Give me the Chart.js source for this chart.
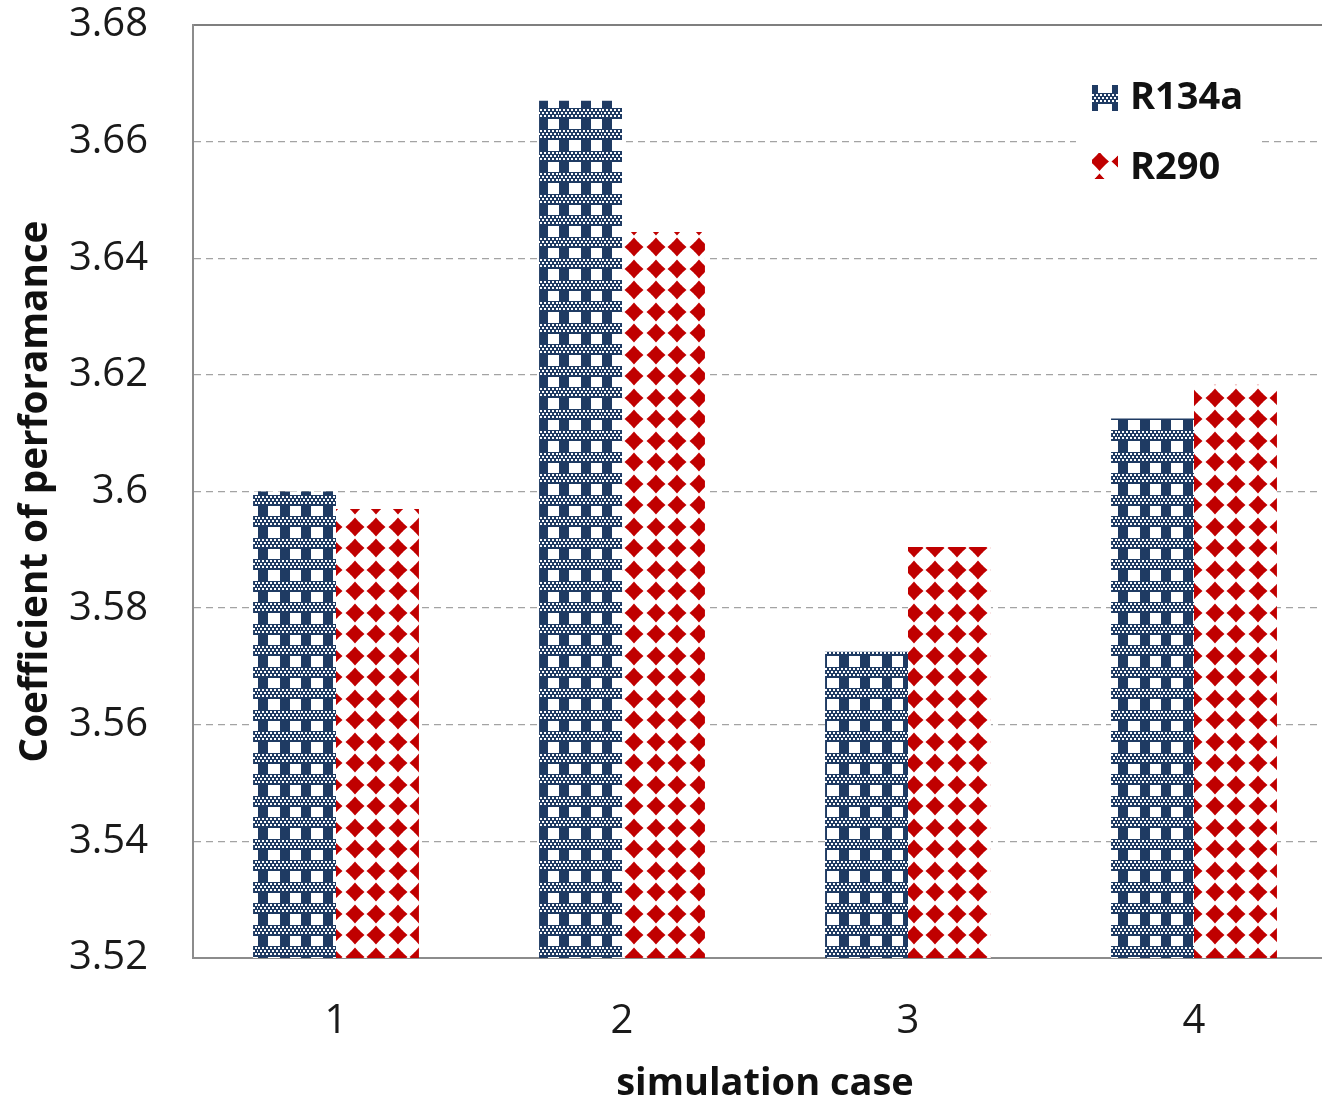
<!DOCTYPE html>
<html>
<head>
<meta charset="utf-8">
<script src="https://cdn.jsdelivr.net/npm/chart.js@4/dist/chart.umd.min.js"></script>
<style>
  html, body { margin: 0; padding: 0; background: #fff; overflow: hidden; }
  #wrap { width: 1340px; height: 1100px; }
  canvas { display: block; }
</style>
</head>
<body>
<div id="wrap"><canvas id="copChart" width="1340" height="1100"></canvas></div>
<script>
// Casi di simulazione e COP per i due refrigeranti
const casi = ['1', '2', '3', '4'];
const copR134a = [3.600, 3.667, 3.5725, 3.6125];
const copR290 = [3.597, 3.6445, 3.5905, 3.6183];

// Asse y
const yMin = 3.52;
const yMax = 3.68;
const yStep = 0.02;

const NAVY = '#1f3b63';
const ROSSO = '#c00000';

// Fascia orizzontale a trama fine (blu con puntini bianchi)
function fascia(g, x0, y0, w, h) {
    g.fillStyle = NAVY;
    g.fillRect(x0, y0, w, h);
    g.fillStyle = '#fff';
    let riga = 0;
    for (let y = 1; y < h - 1; y += 3) {
        const off = riga % 2 ? 2 : 0;
        for (let x = off; x < w; x += 4) g.fillRect(x0 + x, y0 + y, 2, 2);
        riga++;
    }
}

// Rombo arrotondato rosso
function rombo(g, cx, cy) {
    g.beginPath();
    for (let i = 0; i < 8; i++) {
        const a = i * Math.PI / 4 - Math.PI / 2;
        const r = i % 2 ? 6.2 : 9.5;
        g.lineTo(cx + r * Math.cos(a), cy + r * Math.sin(a));
    }
    g.closePath();
    g.fill();
    g.beginPath();
    g.arc(cx, cy, 6.3, 0, 2 * Math.PI);
    g.fill();
}

function nuovaTela(w, h) {
    const c = document.createElement('canvas');
    c.width = w;
    c.height = h;
    return c;
}

// Trama R134a: strisce verticali blu + fasce a quadretti
function trama134a() {
    const c = nuovaTela(43, 43);
    const g = c.getContext('2d');
    g.fillStyle = '#fff';
    g.fillRect(0, 0, 43, 43);
    g.fillStyle = NAVY;
    g.fillRect(0, 0, 10, 43);
    g.fillRect(22, 0, 10, 43);
    fascia(g, 0, 0, 43, 11);
    fascia(g, 0, 22, 43, 11);
    return g.createPattern(c, 'repeat');
}

// Trama R290: rombi rossi su bianco
function trama290() {
    const c = nuovaTela(43, 43);
    const g = c.getContext('2d');
    g.fillStyle = '#fff';
    g.fillRect(0, 0, 43, 43);
    g.fillStyle = ROSSO;
    [[11, 11], [32, 11], [11, 32], [32, 32]].forEach(([x, y]) => rombo(g, x, y));
    return g.createPattern(c, 'repeat');
}

// Icone della legenda
function icona134a() {
    const c = nuovaTela(26, 26);
    const g = c.getContext('2d');
    g.fillStyle = NAVY;
    g.fillRect(0, 0, 6, 26);
    g.fillRect(20, 0, 6, 26);
    fascia(g, 0, 8, 26, 11);
    return c;
}

function icona290() {
    const c = nuovaTela(26, 26);
    const g = c.getContext('2d');
    g.fillStyle = ROSSO;
    rombo(g, 7.5, 8.5);
    rombo(g, 29, 8.5);
    rombo(g, 7.5, 30);
    return c;
}

const icone = [icona134a(), icona290()];

// Legenda dentro l'area del grafico, in alto a destra
const legendaInterna = {
    id: 'legendaInterna',
    afterDraw(chart) {
        const ctx = chart.ctx;
        const x0 = chart.chartArea.right - 245;
        ctx.save();
        ctx.fillStyle = '#fff';
        ctx.fillRect(x0 - 16, 62, 182, 136);
        ctx.font = 'bold 38px "Open Sans"';
        ctx.textBaseline = 'middle';
        ctx.fillStyle = '#111';
        chart.data.datasets.forEach((ds, i) => {
            const y = 98 + i * 70;
            ctx.drawImage(icone[i], x0, y - 13 - i * 2);
            ctx.fillText(ds.label, x0 + 38, y);
        });
        ctx.restore();
    }
};

const isTop = ctx => ctx.tick && ctx.tick.value > yMax - yStep / 2;

const config = {
    type: 'bar',
    data: {
        labels: casi,
        datasets: [
            { label: 'R134a', data: copR134a, backgroundColor: trama134a(), borderWidth: 0 },
            { label: 'R290', data: copR290, backgroundColor: trama290(), borderWidth: 0 }
        ]
    },
    options: {
        responsive: false,
        devicePixelRatio: 1,
        animation: false,
        layout: { padding: { left: 0, top: 25, right: 3, bottom: 0 } },
        datasets: { bar: { categoryPercentage: 0.58, barPercentage: 1 } },
        plugins: {
            legend: { display: false },
            tooltip: { enabled: false }
        },
        scales: {
            x: {
                grid: { display: false, drawTicks: false },
                border: { display: true, color: '#8c8c8c', width: 2 },
                ticks: {
                    font: { family: 'Open Sans', size: 40 },
                    color: '#1a1a1a',
                    padding: 40
                },
                title: {
                    display: true,
                    text: 'simulation case',
                    font: { family: 'Open Sans', size: 38, weight: 'bold', lineHeight: 0.84 },
                    color: '#111',
                    padding: 0
                },
                afterFit: s => { s.height = 142; }
            },
            y: {
                min: yMin,
                max: yMax,
                grid: {
                    drawTicks: true,
                    tickLength: 45,
                    tickColor: 'rgba(0,0,0,0)',
                    color: ctx => isTop(ctx) ? '#7f7f7f' : '#a3a3a3',
                    lineWidth: ctx => isTop(ctx) ? 2 : 1.3
                },
                border: {
                    color: '#8c8c8c',
                    width: 2,
                    dash: ctx => isTop(ctx) ? [] : [7, 5]
                },
                ticks: {
                    stepSize: yStep,
                    padding: 0,
                    font: { family: 'Open Sans', size: 40 },
                    color: '#1a1a1a',
                    callback: v => String(+v.toFixed(2))
                },
                title: {
                    display: true,
                    text: 'Coefficient of perforamance',
                    font: { family: 'Open Sans', size: 38.6, weight: 'bold' },
                    color: '#111',
                    padding: { top: 12.5, bottom: 0 }
                },
                afterFit: s => { s.width = 193; }
            }
        }
    },
    plugins: [legendaInterna]
};

// Crea il grafico a barre
const copChart = new Chart(document.getElementById('copChart'), config);
</script>
</body>
</html>
